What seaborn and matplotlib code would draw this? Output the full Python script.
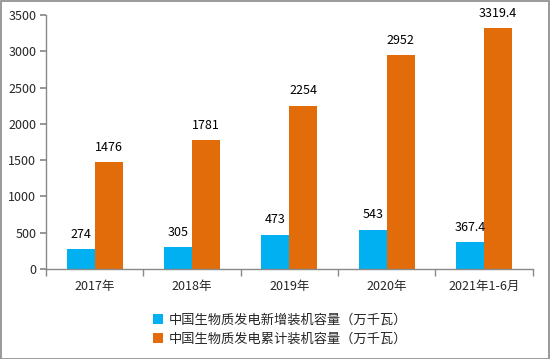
"""中国生物质发电装机容量 柱状图 -> out.png"""
import matplotlib
matplotlib.use("Agg")
import matplotlib.pyplot as plt
import pandas as pd
import seaborn as sns
from matplotlib.patches import Rectangle

sns.set_theme(style="white")
plt.rcParams["font.family"] = ["Noto Sans CJK SC", "DejaVu Sans"]
plt.rcParams["axes.unicode_minus"] = False

years = ["2017年", "2018年", "2019年", "2020年", "2021年1-6月"]
new_cap = [274, 305, 473, 543, 367.4]
total_cap = [1476, 1781, 2254, 2952, 3319.4]
new_labels = ["274", "305", "473", "543", "367.4"]
total_labels = ["1476", "1781", "2254", "2952", "3319.4"]
series = ["中国生物质发电新增装机容量（万千瓦）", "中国生物质发电累计装机容量（万千瓦）"]
colors = ["#00B0F0", "#E36C0A"]

df = pd.DataFrame({
    "year": years * 2,
    "value": new_cap + total_cap,
    "series": [series[0]] * len(years) + [series[1]] * len(years),
})

fig = plt.figure(figsize=(5.5, 3.59), dpi=100)
ax = fig.add_axes([0.0836, 0.2507, 0.885, 0.707])
sns.barplot(data=df, x="year", y="value", hue="series", palette=colors,
            width=0.575, saturation=1, linewidth=0, ax=ax, legend=True)

for cont, labs in zip(ax.containers, [new_labels, total_labels]):
    ax.bar_label(cont, labels=labs, padding=6, fontsize=9, color="black")

ax.set_ylim(0, 3500)
ax.set_yticks(range(0, 3501, 500))
ax.set_xlim(-0.5, 4.5)
ax.set_xlabel("")
ax.set_ylabel("")
for s in ["top", "right"]:
    ax.spines[s].set_visible(False)
for s in ["left", "bottom"]:
    ax.spines[s].set_color("#898989")
    ax.spines[s].set_linewidth(1)

ax.tick_params(axis="y", direction="out", length=4, color="#898989", left=True,
               labelsize=9, pad=3)
ax.tick_params(axis="x", which="major", length=0, labelsize=9, pad=8)
ax.set_xticks([i - 0.5 for i in range(6)], minor=True)
ax.tick_params(axis="x", which="minor", direction="out", length=5, color="#898989",
               bottom=True, width=1)

handles, labels = ax.get_legend_handles_labels()
ax.legend(handles, labels, loc="upper left", bbox_to_anchor=(0.268, 0.142),
          bbox_transform=fig.transFigure, frameon=False, fontsize=9.5,
          handlelength=0.8, handleheight=0.8, handletextpad=0.45, labelspacing=0.45,
          borderaxespad=0)

fig.patches.append(Rectangle((0.001, 0.001), 0.997, 0.996, transform=fig.transFigure,
                             fill=False, edgecolor="#898989", linewidth=1.2))

fig.savefig("out.png", dpi=100)
plt.close(fig)
